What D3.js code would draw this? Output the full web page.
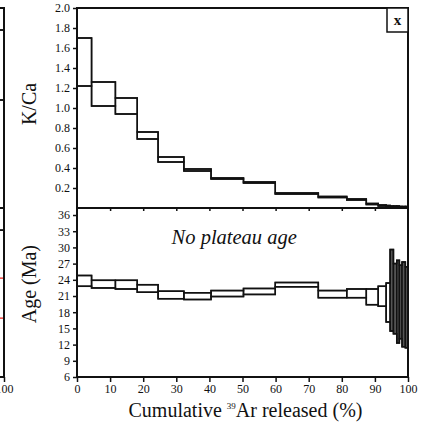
<!DOCTYPE html>
<html>
<head>
<meta charset="utf-8">
<script src="https://cdn.jsdelivr.net/npm/d3@7"></script>
<style>
body { margin: 0; background: #fff; }
svg { display: block; }
svg text { font-family: "Liberation Serif", "DejaVu Serif", serif; }
</style>
</head>
<body>
<div id="chart"></div>
<script>
// step edges, cumulative 39Ar released (%)
var stepEdges = [0, 4.4, 11.6, 18.2, 24.5, 32.3, 40.5, 50.3, 59.9, 72.9, 81.5, 87.4, 91.0, 93.4, 94.6, 95.6, 96.6, 97.4, 98.2, 99.2, 100];
// K/Ca upper / lower per step
var kcaHigh = [1.70, 1.26, 1.10, 0.76, 0.51, 0.39, 0.30, 0.26, 0.15, 0.115, 0.09, 0.045, 0.03, 0.025, 0.02, 0.02, 0.02, 0.015, 0.015, 0.015];
var kcaLow  = [1.22, 1.02, 0.94, 0.69, 0.46, 0.37, 0.29, 0.25, 0.14, 0.105, 0.08, 0.035, 0.02, 0.015, 0.01, 0.01, 0.01, 0.005, 0.005, 0.005];
// age (Ma) upper / lower per step
var ageHigh = [24.8, 23.9, 23.9, 23.1, 21.9, 21.6, 22.0, 22.4, 23.5, 22.0, 22.3, 22.3, 22.8, 23.4, 29.6, 27.0, 27.6, 26.7, 27.3, 26.4];
var ageLow  = [22.8, 22.5, 22.3, 21.7, 20.5, 20.35, 20.9, 21.3, 22.7, 20.7, 20.7, 19.4, 19.1, 16.2, 14.5, 14.0, 12.3, 13.1, 11.6, 11.4];

var xTicks = [0, 10, 20, 30, 40, 50, 60, 70, 80, 90, 100];
var kcaTicks = [0.2, 0.4, 0.6, 0.8, 1.0, 1.2, 1.4, 1.6, 1.8, 2.0];
var ageTicks = [6, 9, 12, 15, 18, 21, 24, 27, 30, 33, 36];

// the neighbouring panel cut off at the left edge (last step only)
var prevEdges = [95, 100];
var prevKca = [1.78, 1.08];
var prevAge = [33.2, 6];
var prevPlateau = [24.3, 16.9];

var width = 431, height = 427;
var serif = "Liberation Serif, DejaVu Serif, serif";

var x = d3.scaleLinear().domain([0, 100]).range([77, 408]);
var xPrev = d3.scaleLinear().domain([0, 100]).range([4 - 331, 4]);
var yK = d3.scaleLinear().domain([0, 2]).range([208, 8]);
var yA = d3.scaleLinear().domain([6, 37.3]).range([377, 208]);

var svg = d3.select("#chart").append("svg")
    .attr("width", width)
    .attr("height", height);

svg.append("rect").attr("width", width).attr("height", height).attr("fill", "#fff");

var steps = d3.range(stepEdges.length - 1).map(function(i) {
    return {x0: stepEdges[i], x1: stepEdges[i + 1],
            kHi: kcaHigh[i], kLo: kcaLow[i], aHi: ageHigh[i], aLo: ageLow[i]};
});

// each step as a box, plus the upper and lower stair lines so the risers join up
function stairs(g, data, xs, ys, hi, lo) {
    g.selectAll("rect").data(data).enter().append("rect")
        .attr("x", function(d) { return xs(d.x0); })
        .attr("width", function(d) { return xs(d.x1) - xs(d.x0); })
        .attr("y", function(d) { return ys(d[hi]); })
        .attr("height", function(d) { return ys(d[lo]) - ys(d[hi]); })
        // very narrow boxes print as solid dark bars
        .attr("fill", function(d) { return d.x1 - d.x0 < 1.1 ? "#555" : "none"; })
        .attr("stroke", "#111")
        .attr("stroke-width", 1.5);
    [hi, lo].forEach(function(key) {
        var pts = [];
        data.forEach(function(d) { pts.push([d.x0, d[key]]); pts.push([d.x1, d[key]]); });
        g.append("path")
            .attr("d", d3.line().x(function(p) { return xs(p[0]); }).y(function(p) { return ys(p[1]); })(pts))
            .attr("fill", "none")
            .attr("stroke", "#111")
            .attr("stroke-width", 1.5);
    });
}

// neighbour panel pieces
var prev = [{x0: prevEdges[0], x1: prevEdges[1], kHi: prevKca[0], kLo: prevKca[1], aHi: prevAge[0], aLo: prevAge[1]}];
stairs(svg.append("g"), prev, xPrev, yK, "kHi", "kLo");
stairs(svg.append("g"), prev, xPrev, yA, "aHi", "aLo");
svg.append("g").selectAll("line").data(prevPlateau).enter().append("line")
    .attr("x1", xPrev(0)).attr("x2", xPrev(100))
    .attr("y1", function(d) { return yA(d); })
    .attr("y2", function(d) { return yA(d); })
    .attr("stroke", "#e8221c").attr("stroke-width", 1.2);
svg.append("path")
    .attr("d", "M" + xPrev(0) + "," + yK(2) + "H" + xPrev(100) + "V" + yA(6) + "H" + xPrev(0) +
               "M" + xPrev(0) + "," + yK(0) + "H" + xPrev(100))
    .attr("fill", "none").attr("stroke", "#111").attr("stroke-width", 2);

function styleAxis(g) {
    g.select(".domain").remove();
    g.attr("font-family", serif).attr("font-size", 12);
    g.selectAll("line").attr("stroke", "#111").attr("stroke-width", 1.5);
    g.selectAll("text").attr("fill", "#111");
}

svg.append("g")
    .attr("transform", "translate(0," + yA(6) + ")")
    .call(d3.axisBottom(xPrev).tickValues([100]).tickSize(5).tickPadding(2))
    .call(styleAxis);

// main data
stairs(svg.append("g"), steps, x, yK, "kHi", "kLo");
stairs(svg.append("g"), steps, x, yA, "aHi", "aLo");

// frames
svg.append("rect").attr("x", x(0)).attr("y", yK(2))
    .attr("width", x(100) - x(0)).attr("height", yK(0) - yK(2))
    .attr("fill", "none").attr("stroke", "#111").attr("stroke-width", 2);
svg.append("rect").attr("x", x(0)).attr("y", yA(37.3))
    .attr("width", x(100) - x(0)).attr("height", yA(6) - yA(37.3))
    .attr("fill", "none").attr("stroke", "#111").attr("stroke-width", 2);

svg.append("g")
    .attr("transform", "translate(" + x(0) + ",0)")
    .call(d3.axisLeft(yK).tickValues(kcaTicks).tickFormat(d3.format(".1f")).tickSize(4).tickPadding(3))
    .call(styleAxis);

svg.append("g")
    .attr("transform", "translate(" + x(0) + ",0)")
    .call(d3.axisLeft(yA).tickValues(ageTicks).tickSize(4).tickPadding(3))
    .call(styleAxis);

svg.append("g")
    .attr("transform", "translate(0," + yA(6) + ")")
    .call(d3.axisBottom(x).tickValues(xTicks).tickSize(5).tickPadding(2))
    .call(styleAxis);

svg.append("g")
    .attr("transform", "translate(0," + yK(0) + ")")
    .call(d3.axisBottom(x).tickValues(xTicks.slice(1, -1)).tickSize(3).tickFormat(""))
    .call(styleAxis);

// axis titles
svg.append("text")
    .attr("transform", "translate(36," + yK(1.04) + ") rotate(-90)")
    .attr("text-anchor", "middle").attr("font-size", 20).attr("fill", "#111")
    .text("K/Ca");

svg.append("text")
    .attr("transform", "translate(36," + yA(23.2) + ") rotate(-90)")
    .attr("text-anchor", "middle").attr("font-size", 20).attr("fill", "#111")
    .text("Age (Ma)");

var xt = svg.append("text")
    .attr("x", (x(0) + x(100)) / 2 + 3).attr("y", 417)
    .attr("text-anchor", "middle").attr("font-size", 20).attr("fill", "#111");
xt.append("tspan").text("Cumulative ");
xt.append("tspan").attr("font-size", 9).attr("dy", -8).text("39");
xt.append("tspan").attr("dy", 8).text("Ar released (%)");

svg.append("text")
    .attr("x", x(47.5)).attr("y", 244)
    .attr("text-anchor", "middle").attr("font-size", 20.5).attr("font-style", "italic").attr("fill", "#111")
    .text("No plateau age");

// panel letter
svg.append("rect").attr("x", 387).attr("y", yK(2))
    .attr("width", x(100) - 387).attr("height", 24)
    .attr("fill", "#fff").attr("stroke", "#111").attr("stroke-width", 1.5);
svg.append("text")
    .attr("x", (387 + x(100)) / 2).attr("y", 25)
    .attr("text-anchor", "middle").attr("font-size", 15).attr("font-weight", "bold").attr("fill", "#111")
    .text("x");
</script>
</body>
</html>
